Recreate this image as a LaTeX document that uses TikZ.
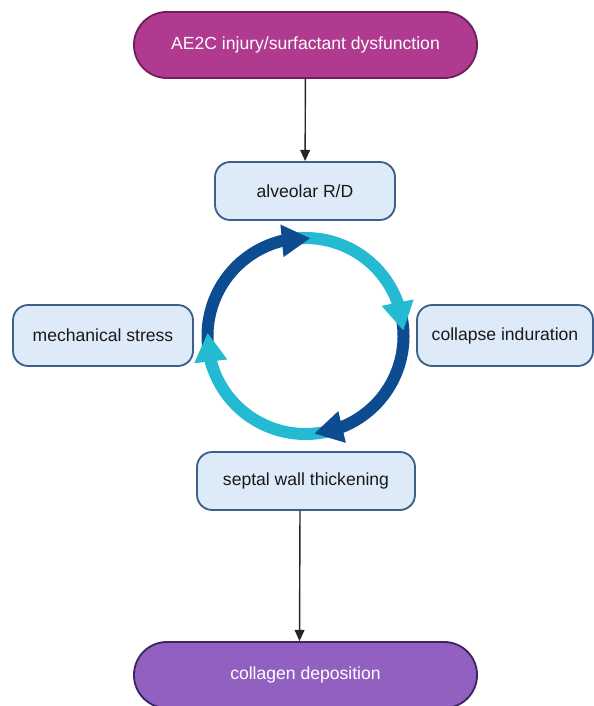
\documentclass[tikz,border=0pt]{standalone}
\usepackage{fontspec}
\setsansfont{Liberation Sans}
\usetikzlibrary{arrows.meta,calc,bending}

\definecolor{injuryfill}{RGB}{176,58,143}
\definecolor{injurydraw}{RGB}{110,30,88}
\definecolor{collagenfill}{RGB}{145,96,192}
\definecolor{collagendraw}{RGB}{58,37,96}
\definecolor{stepfill}{RGB}{221,235,248}
\definecolor{stepdraw}{RGB}{62,95,138}
\definecolor{cycledark}{RGB}{14,76,146}
\definecolor{cyclelight}{RGB}{36,186,210}

\begin{document}
\begin{tikzpicture}[>={Triangle[length=8pt,width=7pt]}, font=\sffamily\fontsize{12.5}{15}\selectfont,
  pill/.style={draw, line width=1.3pt, text=white, rounded corners=0.82cm,
    minimum width=8.575cm, minimum height=1.65cm},
  stepbox/.style={draw=stepdraw, fill=stepfill, line width=1.3pt, text=black!90,
    rounded corners=0.38cm, minimum height=1.5cm},
  cyclearc/.style={line width=0.3cm, -{Triangle[length=0.72cm, width=0.76cm, flex]}},
  flow/.style={->, line width=1pt, black!85}]
  \useasboundingbox (0,0) rectangle (14.825,-17.65);

  \node[pill, fill=injuryfill, draw=injurydraw] (injury) at (7.6375,-1.125) {AE2C injury/surfactant dysfunction};
  \node[stepbox, minimum width=4.5cm, minimum height=1.45cm] (alveolar) at (7.625,-4.775) {alveolar R/D};
  \node[stepbox, minimum width=4.5cm, minimum height=1.525cm] (mech) at (2.575,-8.3875) {mechanical stress};
  \node[stepbox, minimum width=4.4cm, minimum height=1.525cm] (collapse) at (12.625,-8.3875) {collapse induration};
  \node[stepbox, minimum width=5.45cm, minimum height=1.45cm] (septal) at (7.65,-12.025) {septal wall thickening};
  \node[pill, fill=collagenfill, draw=collagendraw] (collagen) at (7.6375,-16.875) {collagen deposition};

  \draw[flow] (injury) -- (alveolar);
  \draw[flow] ([xshift=-0.15cm]septal.south) -- ([xshift=-0.15cm]collagen.north);

  % cycle, drawn backwards so every head lies over the next arc
  \coordinate (O) at (7.6375,-8.4);
  \draw[cyclearc, cyclelight] ($(O)+(-73:2.45)$) arc[start angle=-73, end angle=-182, radius=2.45];
  \draw[cyclearc, cycledark] ($(O)+(15:2.45)$) arc[start angle=15, end angle=-85, radius=2.45];
  \draw[cyclearc, cyclelight] ($(O)+(99:2.45)$) arc[start angle=99, end angle=3, radius=2.45];
  \draw[cyclearc, cycledark] ($(O)+(190:2.45)$) arc[start angle=190, end angle=87, radius=2.45];
  \draw[cyclearc, cyclelight] ($(O)+(-160:2.45)$) arc[start angle=-160, end angle=-182, radius=2.45];
\end{tikzpicture}
\end{document}
